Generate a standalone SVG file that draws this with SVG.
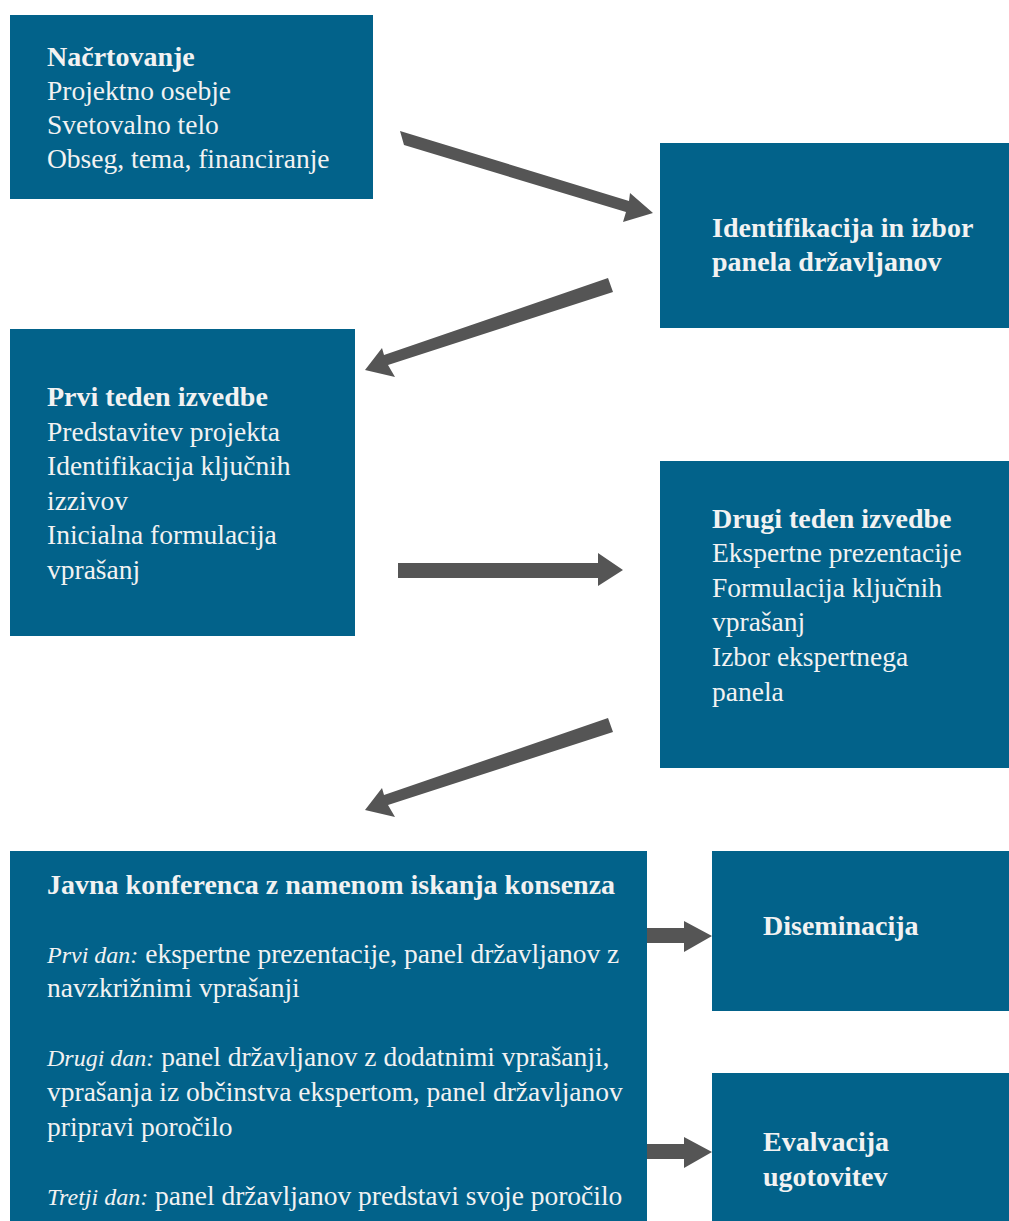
<svg xmlns="http://www.w3.org/2000/svg" width="1009" height="1221" viewBox="0 0 1009 1221">
<style>
.box{fill:#02628a}
text{font-family:"Liberation Serif",Tinos,"Times New Roman",serif;font-size:27.5px;fill:#f2f2f2}
.b{font-weight:bold;font-size:28px}
.i{font-style:italic;font-size:24px}
.arr{fill:#555555}
</style>
<rect width="1009" height="1221" fill="#ffffff"/>
<g id="n1">
<rect class="box" x="10" y="15" width="363" height="184"/>
<text x="47" y="66" class="b">Načrtovanje</text>
<text x="47" y="100">Projektno osebje</text>
<text x="47" y="134">Svetovalno telo</text>
<text x="47" y="168">Obseg, tema, financiranje</text>
</g>
<g id="n2">
<rect class="box" x="660" y="143" width="349" height="185"/>
<text x="712" y="237" class="b">Identifikacija in izbor</text>
<text x="712" y="271" class="b">panela državljanov</text>
</g>
<g id="n3">
<rect class="box" x="10" y="329" width="345" height="307"/>
<text x="47" y="406" class="b">Prvi teden izvedbe</text>
<text x="47" y="441">Predstavitev projekta</text>
<text x="47" y="475">Identifikacija ključnih</text>
<text x="47" y="510">izzivov</text>
<text x="47" y="544">Inicialna formulacija</text>
<text x="47" y="579">vprašanj</text>
</g>
<g id="n4">
<rect class="box" x="660" y="461" width="349" height="307"/>
<text x="712" y="528" class="b">Drugi teden izvedbe</text>
<text x="712" y="562">Ekspertne prezentacije</text>
<text x="712" y="597">Formulacija ključnih</text>
<text x="712" y="631">vprašanj</text>
<text x="712" y="666">Izbor ekspertnega</text>
<text x="712" y="701">panela</text>
</g>
<g id="n5">
<rect class="box" x="10" y="851" width="637" height="370"/>
<text x="47" y="894" class="b">Javna konferenca z namenom iskanja konsenza</text>
<text x="47" y="963"><tspan class="i">Prvi dan:</tspan> ekspertne prezentacije, panel državljanov z</text>
<text x="47" y="997">navzkrižnimi vprašanji</text>
<text x="47" y="1066"><tspan class="i">Drugi dan:</tspan> panel državljanov z dodatnimi vprašanji,</text>
<text x="47" y="1101">vprašanja iz občinstva ekspertom, panel državljanov</text>
<text x="47" y="1136">pripravi poročilo</text>
<text x="47" y="1205"><tspan class="i">Tretji dan:</tspan> panel državljanov predstavi svoje poročilo</text>
</g>
<g id="n6">
<rect class="box" x="712" y="851" width="297" height="160"/>
<text x="763" y="935" class="b">Diseminacija</text>
</g>
<g id="n7">
<rect class="box" x="712" y="1073" width="297" height="148"/>
<text x="763" y="1151" class="b">Evalvacija</text>
<text x="763" y="1186" class="b">ugotovitev</text>
</g>
<g id="connectors" class="arr">
<polygon points="400,131 404,145 626,212 623,222 653,213 630,193 629,201"/>
<polygon points="608,278 613,292 388,365 395,377 365,370 382,348 384,355"/>
<polygon points="398,563 598,563 598,553 623,570 598,586 598,578 398,578"/>
<polygon points="608,718 613,732 388,805 395,817 365,810 382,788 384,795"/>
<polygon points="647,928 684,928 684,921 712,936 684,952 684,943 647,943"/>
<polygon points="647,1144 684,1144 684,1137 712,1152 684,1168 684,1159 647,1159"/>
</g>
</svg>
